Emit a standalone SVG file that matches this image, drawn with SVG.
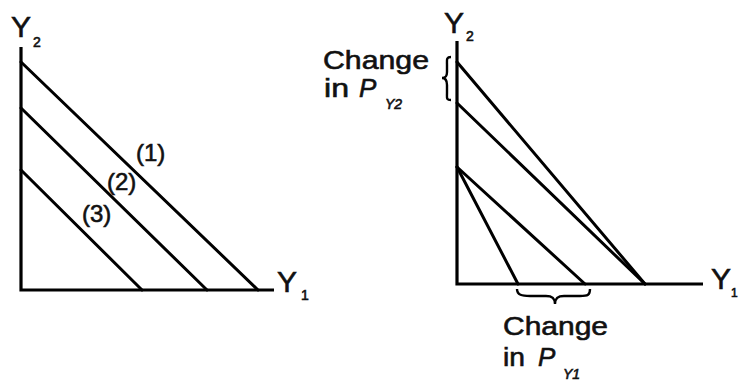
<svg xmlns="http://www.w3.org/2000/svg" width="739" height="381" viewBox="0 0 739 381">
<style>
.ax{stroke:#000;stroke-width:3.2;fill:none;stroke-linecap:butt}
.ln{stroke:#000;stroke-width:3;fill:none;stroke-linecap:round}
.br{stroke:#000;stroke-width:2.4;fill:none}
text{font-family:"Liberation Sans",Arial,sans-serif;fill:#111;stroke:#111;stroke-width:0.6}
.big{font-size:30px}
.sub{font-size:14px}
.lab{font-size:24px}
.chg{font-size:26px}
.it{font-style:italic}
</style>
<rect width="739" height="381" fill="#fff"/>
<g id="left-chart">
  <g id="left-axes">
    <path class="ax" d="M21,47 L21,290 L274,290"/>
  </g>
  <g id="connectors-left">
    <line class="ln" x1="21" y1="62" x2="258" y2="290"/>
    <line class="ln" x1="21" y1="108" x2="207" y2="290"/>
    <line class="ln" x1="21" y1="170" x2="142" y2="290"/>
  </g>
  <g id="left-y2-label">
    <text class="big" x="11" y="37">Y</text>
    <text class="sub" x="33" y="47">2</text>
  </g>
  <g id="left-y1-label">
    <text class="big" x="277" y="292">Y</text>
    <text class="sub" x="301" y="300">1</text>
  </g>
  <g id="label-1"><text class="lab" x="136" y="161">(1)</text></g>
  <g id="label-2"><text class="lab" x="107" y="190">(2)</text></g>
  <g id="label-3"><text class="lab" x="82" y="222">(3)</text></g>
</g>
<g id="right-chart">
  <g id="right-axes">
    <path class="ax" d="M457,41 L457,284 L703,284"/>
  </g>
  <g id="connectors-right">
    <line class="ln" x1="457" y1="62" x2="645" y2="284"/>
    <line class="ln" x1="457" y1="103" x2="645" y2="284"/>
    <line class="ln" x1="457" y1="167" x2="585" y2="284"/>
    <line class="ln" x1="457" y1="167" x2="518" y2="284"/>
  </g>
  <g id="right-y2-label">
    <text class="big" x="444" y="33">Y</text>
    <text class="sub" x="466" y="41">2</text>
  </g>
  <g id="right-y1-label">
    <text class="big" x="711" y="289">Y</text>
    <text class="sub" x="731" y="297" style="font-size:12px">1</text>
  </g>
  <g id="change-py2">
    <path class="br" d="M451,57 C446,57 447,60 447,65 L447,72 C447,76 446,78 442,78 C446,78 447,81 447,85 L447,93 C447,98 446,100 451,100"/>
    <text class="chg" x="323" y="69" textLength="106" lengthAdjust="spacingAndGlyphs">Change</text>
    <text class="chg" x="324" y="97" textLength="25" lengthAdjust="spacingAndGlyphs">in</text>
    <text class="chg it" x="359" y="97">P</text>
    <text class="sub it" x="385" y="109">Y2</text>
  </g>
  <g id="change-py1">
    <path class="br" d="M517,289 C517,295 522,296 530,296 L546,296 C552,296 555,298 555,304 C555,298 558,296 564,296 L580,296 C588,296 590,295 590,289"/>
    <text class="chg" x="503" y="335" textLength="105" lengthAdjust="spacingAndGlyphs">Change</text>
    <text class="chg" x="503" y="366" textLength="22" lengthAdjust="spacingAndGlyphs">in</text>
    <text class="chg it" x="538" y="366">P</text>
    <text class="sub it" x="563" y="379">Y1</text>
  </g>
</g>
</svg>
